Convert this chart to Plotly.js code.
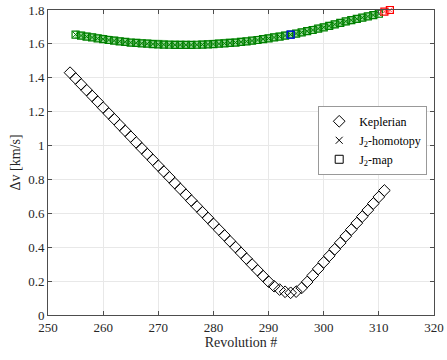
<!DOCTYPE html>
<html>
<head>
<meta charset="utf-8">
<script src="https://cdn.plot.ly/plotly-3.0.1.min.js"></script>
<style>html,body{margin:0;padding:0;background:#fff;}#chart{width:447px;height:360px;}</style>
</head>
<body>
<div id="chart"></div>
<script>
// Keplerian transfer Δv per revolution
const revKep = [254,255,256,257,258,259,260,261,262,263,264,265,266,267,268,269,270,271,272,273,274,275,276,277,278,279,280,281,282,283,284,285,286,287,288,289,290,291,292,293,294,295,296,297,298,299,300,301,302,303,304,305,306,307,308,309,310,311];
const dvKep = [1.430,1.396,1.361,1.327,1.293,1.259,1.224,1.190,1.156,1.121,1.087,1.053,1.018,0.984,0.950,0.916,0.881,0.847,0.813,0.778,0.744,0.710,0.675,0.641,0.607,0.573,0.538,0.504,0.470,0.435,0.401,0.367,0.332,0.298,0.264,0.230,0.197,0.170,0.150,0.137,0.131,0.138,0.160,0.195,0.233,0.272,0.311,0.349,0.388,0.426,0.465,0.504,0.542,0.581,0.619,0.658,0.697,0.735];

// J2 solutions (homotopy and map coincide)
const revJ2 = [255,256,257,258,259,260,261,262,263,264,265,266,267,268,269,270,271,272,273,274,275,276,277,278,279,280,281,282,283,284,285,286,287,288,289,290,291,292,293,294,295,296,297,298,299,300,301,302,303,304,305,306,307,308,309,310];
const dvJ2 = [1.655,1.649,1.643,1.638,1.632,1.628,1.623,1.619,1.615,1.612,1.608,1.606,1.603,1.601,1.599,1.597,1.596,1.595,1.594,1.594,1.594,1.594,1.595,1.596,1.597,1.599,1.601,1.603,1.606,1.608,1.612,1.615,1.619,1.623,1.628,1.632,1.638,1.643,1.649,1.655,1.661,1.668,1.675,1.682,1.690,1.698,1.706,1.715,1.724,1.733,1.740,1.748,1.755,1.762,1.770,1.778];

// J2 solutions highlighted in red
const revJ2End = [311,312];
const dvJ2End = [1.790,1.800];

// highlighted J2-map solution (blue)
const revBest = [294];
const dvBest = [1.655];

const xTicks = [250,260,270,280,290,300,310,320];
const yTicks = [0,0.2,0.4,0.6,0.8,1,1.2,1.4,1.6,1.8];

const font = 'Liberation Serif, Times New Roman, serif';
const green = '#008000';

const traces = [
  {x: revKep, y: dvKep, type: 'scatter', mode: 'markers', name: 'Keplerian',
   marker: {symbol: 'diamond-open', size: 9, color: '#000', line: {width: 1, color: '#000'}}},
  {x: revJ2, y: dvJ2, type: 'scatter', mode: 'lines', showlegend: false, hoverinfo: 'skip', cliponaxis: false,
   line: {color: 'rgba(0,160,0,0.4)', width: 8}},
  {x: revJ2, y: dvJ2, type: 'scatter', mode: 'markers', showlegend: false, cliponaxis: false,
   marker: {symbol: 'square-open', size: 7, color: green, line: {width: 1.2, color: green}}},
  {x: revJ2, y: dvJ2, type: 'scatter', mode: 'markers', showlegend: false, cliponaxis: false,
   marker: {symbol: 'x-thin-open', size: 5, color: green, line: {width: 1, color: green}}},
  {x: revJ2End, y: dvJ2End, type: 'scatter', mode: 'lines', showlegend: false, hoverinfo: 'skip', cliponaxis: false,
   line: {color: 'rgba(255,0,0,0.3)', width: 8}},
  {x: revJ2End, y: dvJ2End, type: 'scatter', mode: 'markers', showlegend: false, cliponaxis: false,
   marker: {symbol: 'square-open', size: 7, color: '#ff0000', line: {width: 1.2, color: '#ff0000'}}},
  {x: revJ2End, y: dvJ2End, type: 'scatter', mode: 'markers', showlegend: false, cliponaxis: false,
   marker: {symbol: 'x-thin-open', size: 5, color: '#ff6060', line: {width: 1, color: '#ff6060'}}},
  {x: revBest, y: dvBest, type: 'scatter', mode: 'markers', showlegend: false, cliponaxis: false,
   marker: {symbol: 'square-open', size: 7, color: '#0000ff', line: {width: 1.2, color: '#0000ff'}}},
  {x: [null], y: [null], type: 'scatter', mode: 'markers', name: 'J<sub>2</sub>-homotopy',
   marker: {symbol: 'x-thin-open', size: 7, color: '#000', line: {width: 1, color: '#000'}}},
  {x: [null], y: [null], type: 'scatter', mode: 'markers', name: 'J<sub>2</sub>-map',
   marker: {symbol: 'square-open', size: 8, color: '#000', line: {width: 1, color: '#000'}}}
];

const axisCommon = {
  showline: true, linecolor: '#4d4d4d', linewidth: 1, mirror: 'ticks',
  ticks: 'inside', ticklen: 4, tickcolor: '#4d4d4d',
  showgrid: true, gridcolor: '#e8e8e8', gridwidth: 1, zeroline: false,
  tickfont: {family: font, size: 13, color: '#262626'}
};

const layout = {
  width: 447, height: 360,
  margin: {l: 48, r: 13, t: 10, b: 45},
  paper_bgcolor: '#fff', plot_bgcolor: '#fff',
  font: {family: font, color: '#262626'},
  showlegend: true,
  legend: {x: 0.70, y: 0.686, xanchor: 'left', yanchor: 'top',
    bgcolor: '#fff', bordercolor: '#999', borderwidth: 1,
    font: {family: font, size: 12, color: '#000'}},
  xaxis: Object.assign({}, axisCommon, {
    range: [250, 320], tickvals: xTicks, ticktext: xTicks.map(String),
    title: {text: 'Revolution #', font: {family: font, size: 14, color: '#262626'}, standoff: 2}
  }),
  yaxis: Object.assign({}, axisCommon, {
    range: [0, 1.8], tickvals: yTicks, ticktext: yTicks.map(String),
    title: {text: 'Δv [km/s]', font: {family: font, size: 14, color: '#262626'}, standoff: 4}
  })
};

Plotly.newPlot('chart', traces, layout, {displayModeBar: false, staticPlot: true});
</script>
</body>
</html>
